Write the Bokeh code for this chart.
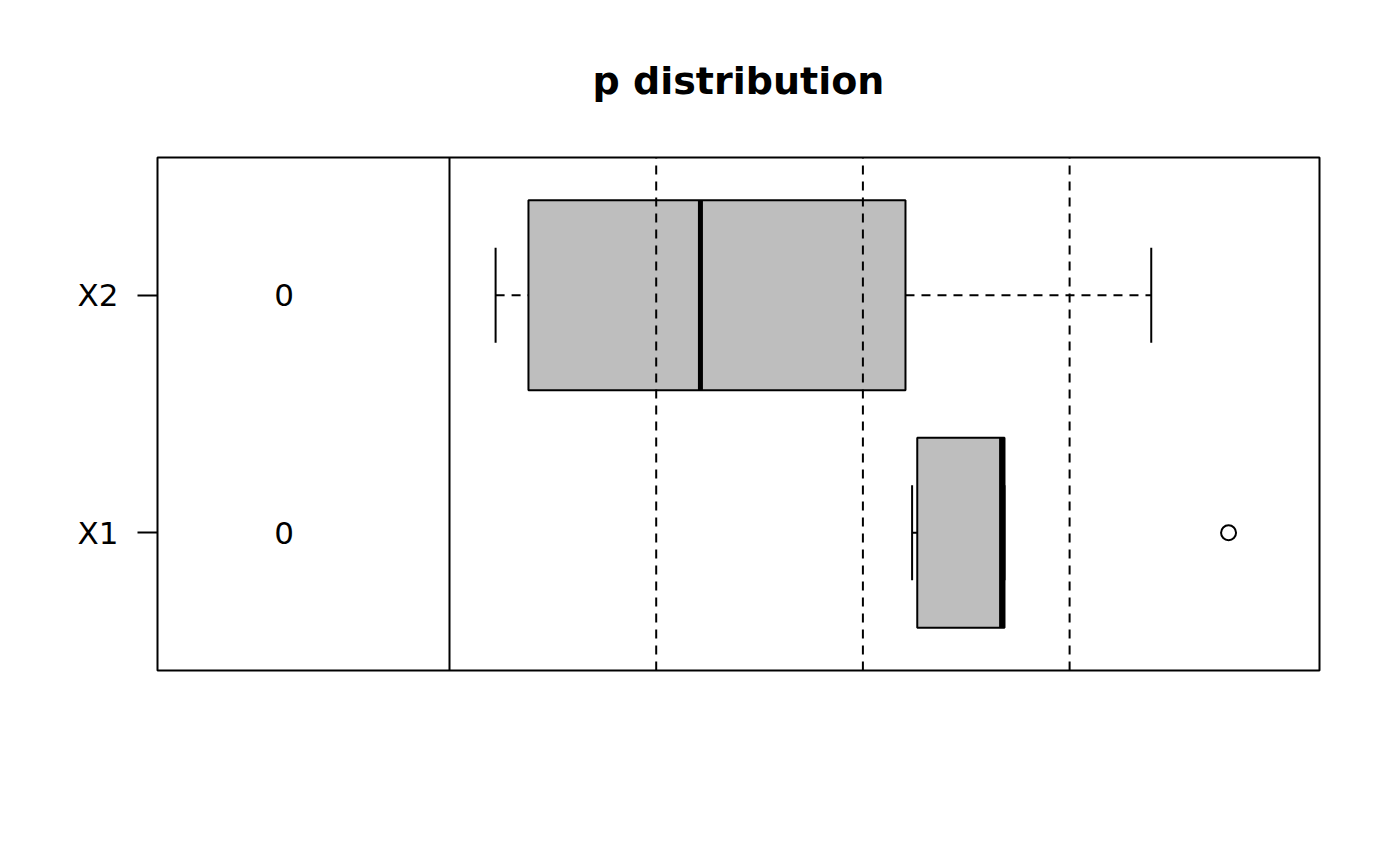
from bokeh.plotting import figure
from bokeh.models import Range1d, FixedTicker
from bokeh.embed import file_html
from bokeh.resources import INLINE
from bokeh.core.properties import value

# ---- data (x in plot units) ----
groups = ["X1", "X2"]
group_pos = [1, 2]
whisker_lo = [2.238, 0.223]
q1 = [2.263, 0.382]
median = [2.671, 1.214]
q3 = [2.685, 2.206]
whisker_hi = [2.685, 3.395]
outlier_x = [3.769]
outlier_y = [1]
zero_counts = ["0", "0"]
zero_label_x = [-0.80, -0.80]
separator_x = [0.0]
dashed_x = [1.0, 2.0, 3.0]

BOX_HALF = 0.4
CAP_HALF = 0.2
FONT = "DejaVu Sans"

p = figure(frame_width=1162, frame_height=513,
           min_border_left=157, min_border_right=65,
           min_border_top=157, min_border_bottom=180,
           x_range=Range1d(-1.4127, 4.209), y_range=Range1d(0.42, 2.58),
           output_backend="svg", toolbar_location=None,
           title="p distribution")

p.title.text_font = FONT
p.title.text_font_size = "38px"
p.title.text_font_style = "bold"
p.title.text_color = "black"
p.title.align = "center"
p.title.standoff = 110

p.xaxis.visible = False
p.xgrid.visible = False
p.ygrid.visible = False
p.outline_line_color = "black"
p.outline_line_width = 2
p.outline_line_alpha = 1

ax = p.yaxis[0]
ax.ticker = FixedTicker(ticks=group_pos)
ax.major_label_overrides = {pos: g for pos, g in zip(group_pos, groups)}
ax.axis_line_color = None
ax.major_tick_out = 20
ax.major_tick_in = 0
ax.major_tick_line_width = 2
ax.minor_tick_line_color = None
ax.major_label_standoff = 19
ax.major_label_text_font = FONT
ax.major_label_text_font_size = "31px"
ax.major_label_text_color = "black"

bottoms = [y - BOX_HALF for y in group_pos]
tops = [y + BOX_HALF for y in group_pos]
cap_lo = [y - CAP_HALF for y in group_pos]
cap_hi = [y + CAP_HALF for y in group_pos]

# whiskers (dashed)
p.segment(x0=whisker_lo, y0=group_pos, x1=q1, y1=group_pos,
          line_color="black", line_width=2, line_dash="9 7")
p.segment(x0=q3, y0=group_pos, x1=whisker_hi, y1=group_pos,
          line_color="black", line_width=2, line_dash="9 7")
# boxes
p.quad(left=q1, right=q3, bottom=bottoms, top=tops,
       fill_color="#BEBEBE", line_color="black", line_width=2)
# medians
p.segment(x0=median, y0=bottoms, x1=median, y1=tops,
          line_color="black", line_width=5)
# caps
p.segment(x0=whisker_lo, y0=cap_lo, x1=whisker_lo, y1=cap_hi,
          line_color="black", line_width=2)
p.segment(x0=whisker_hi, y0=cap_lo, x1=whisker_hi, y1=cap_hi,
          line_color="black", line_width=2)
# outliers
p.scatter(x=outlier_x, y=outlier_y, size=15, marker="circle",
          fill_color=None, line_color="black", line_width=2)

# reference lines
p.segment(x0=separator_x, y0=[0.42] * len(separator_x), x1=separator_x,
          y1=[2.58] * len(separator_x), line_color="black", line_width=2)
p.segment(x0=dashed_x, y0=[0.42] * len(dashed_x), x1=dashed_x,
          y1=[2.58] * len(dashed_x), line_color="black", line_width=2,
          line_dash="9 7")

# zero counts
p.text(x=zero_label_x, y=group_pos, text=zero_counts,
       text_font=value(FONT), text_font_size="31px",
       text_align="center", text_baseline="middle", text_color="black")

open("out.html", "w").write(file_html(p, INLINE))
